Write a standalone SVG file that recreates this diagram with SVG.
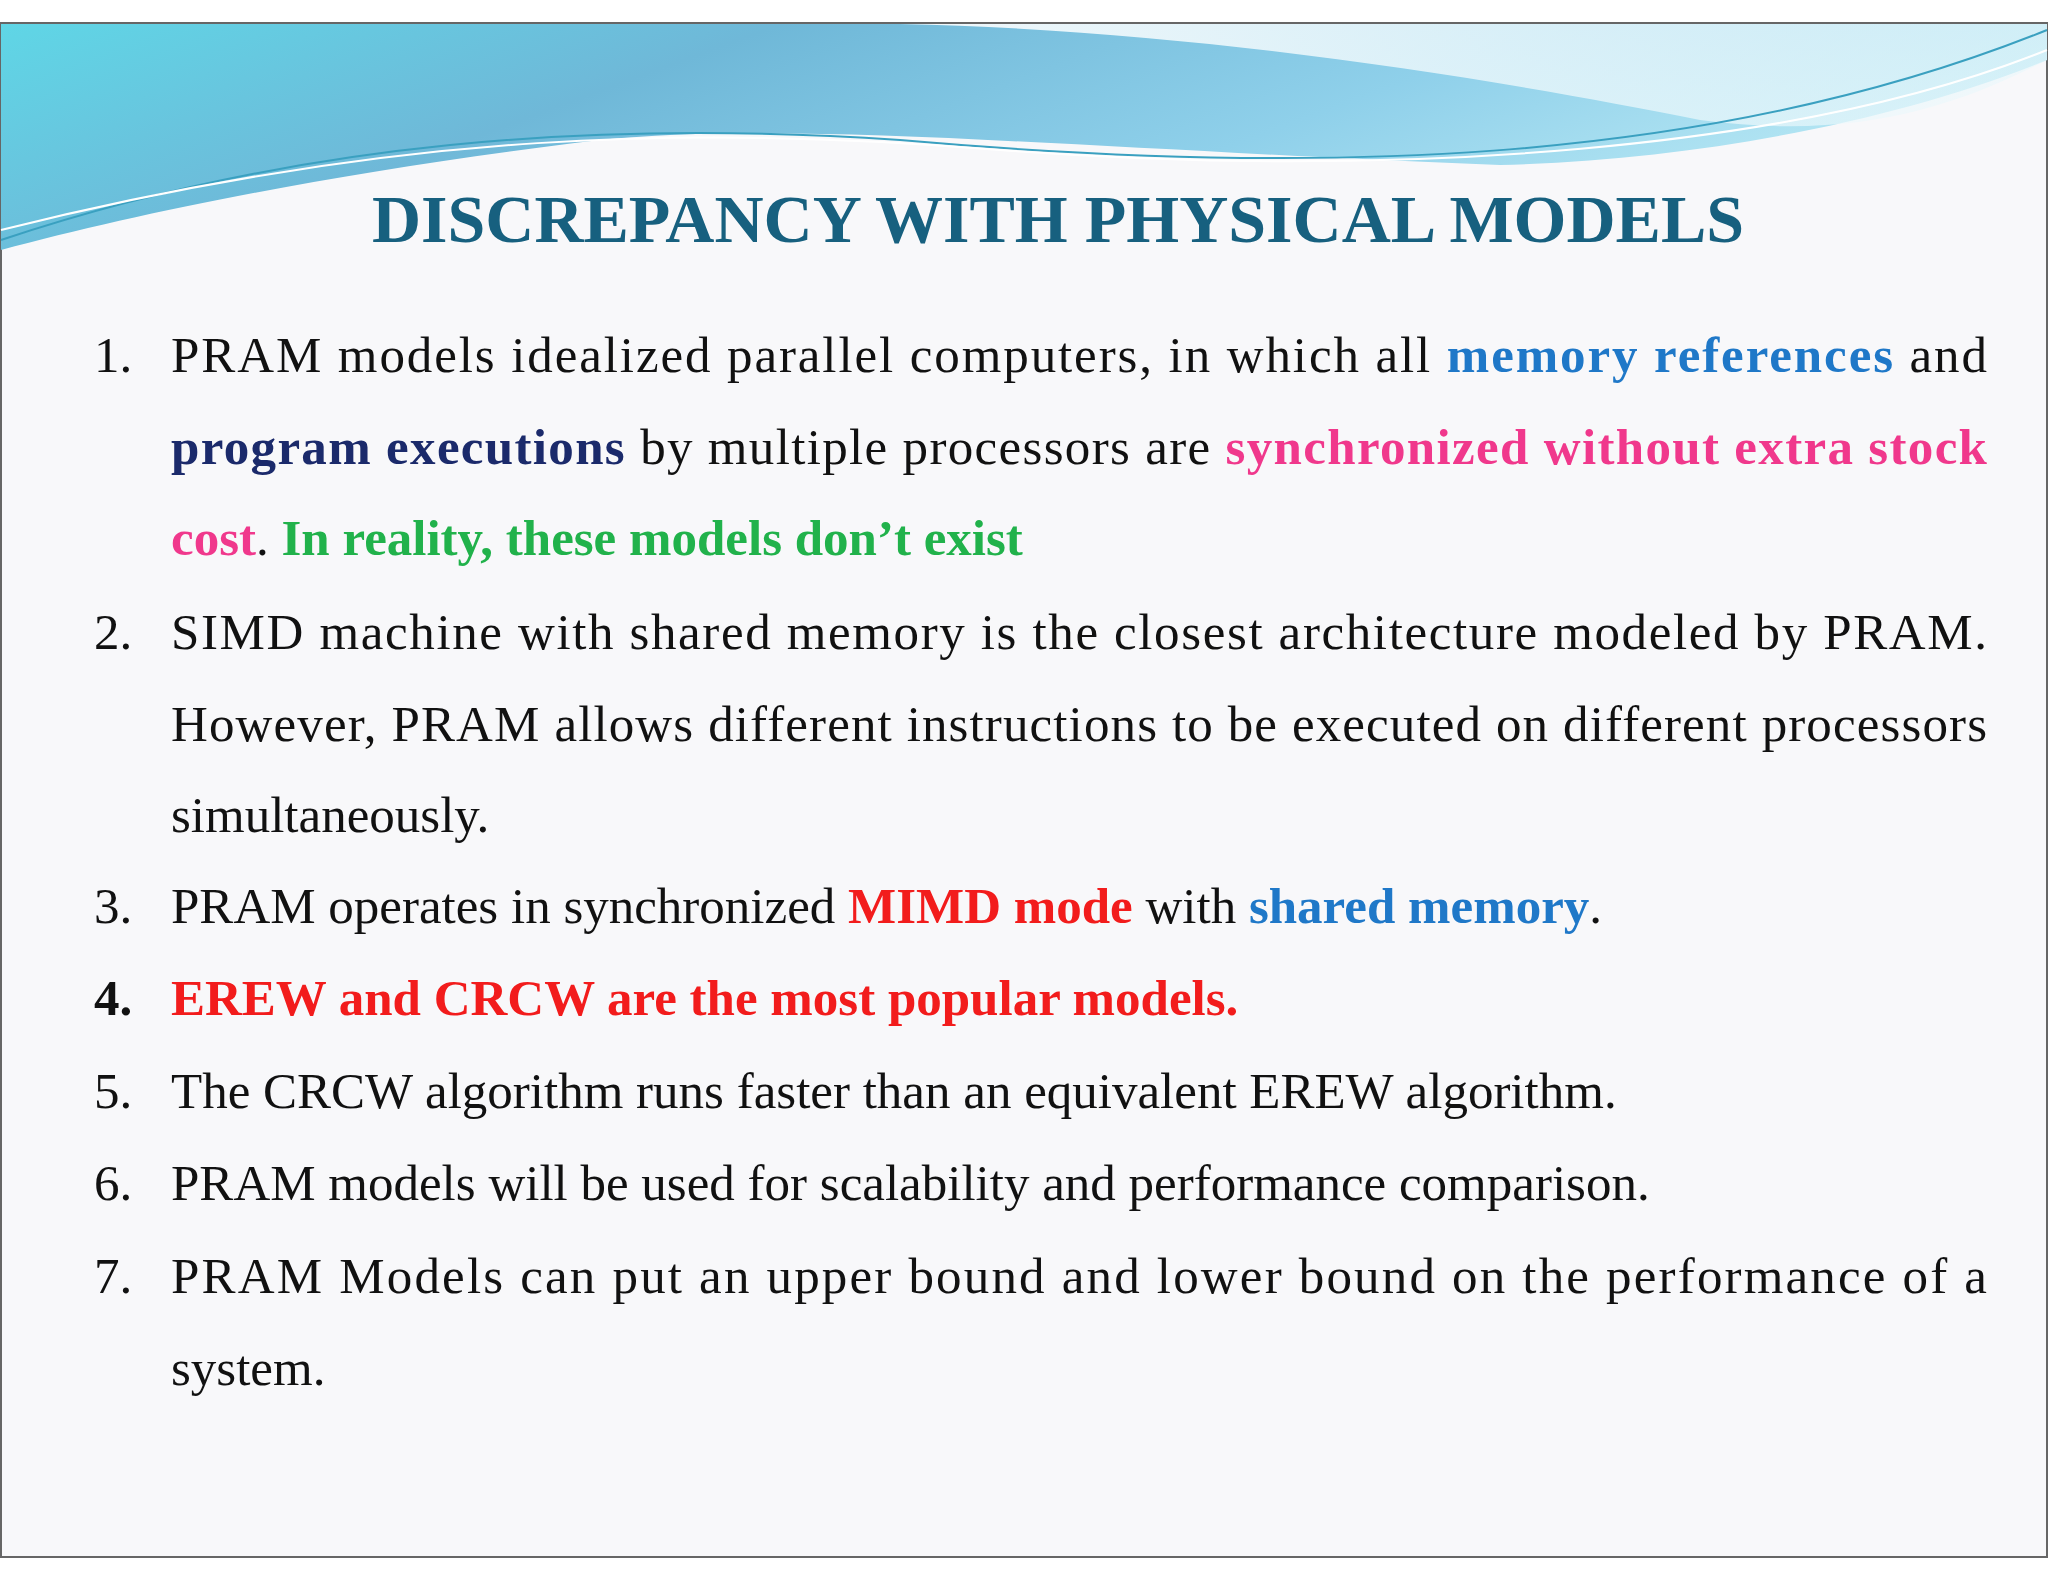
<svg xmlns="http://www.w3.org/2000/svg" width="2048" height="1582" viewBox="0 0 2048 1582">
<defs>
<linearGradient id="hb" x1="0" y1="0" x2="1" y2="0.3">
<stop offset="0" stop-color="#5fd6e6"/><stop offset="0.35" stop-color="#6fb8d8"/><stop offset="0.7" stop-color="#8fd0ea"/><stop offset="1" stop-color="#b8e8f4"/>
</linearGradient>
<linearGradient id="hw" x1="0" y1="0" x2="1" y2="0">
<stop offset="0" stop-color="#ffffff" stop-opacity="0.9"/><stop offset="1" stop-color="#e8f7fb" stop-opacity="0.6"/>
</linearGradient>
<style>
.t{font-family:"Liberation Serif","Times New Roman",serif;font-size:51px;fill:#111}
.b{font-weight:bold}
.blue{fill:#1f78c8}.navy{fill:#1b2a6b}.pink{fill:#f0388c}.green{fill:#21b24b}.red{fill:#f21c1c}
</style>
</defs>
<rect x="0" y="0" width="2048" height="1582" fill="#ffffff"/>
<g id="slide">
<rect x="1" y="23" width="2046" height="1534" fill="#f8f8fa" stroke="#666" stroke-width="2"/>
<path d="M1,24 H2047 V60 C1900,120 1700,160 1500,165 C1100,150 800,120 600,140 C350,170 150,210 1,250 Z" fill="url(#hb)"/>
<path d="M900,24 C1200,30 1500,80 1700,120 C1850,140 1950,110 2047,60 V24 Z" fill="url(#hw)"/>
<path d="M1,240 C300,140 600,120 900,140 C1300,175 1700,170 2047,30" fill="none" stroke="#3aa0c0" stroke-width="2"/>
<path d="M1,230 C400,130 700,125 1000,150 C1400,180 1800,150 2047,50" fill="none" stroke="#ffffff" stroke-width="2"/>
</g>
<g id="title">
<text x="1058" y="242" text-anchor="middle" style="font-family:'Liberation Serif','Times New Roman',serif;font-size:68px;font-weight:bold;fill:#17607f">DISCREPANCY WITH PHYSICAL MODELS</text>
</g>
<g id="numbers">
<text class="t" x="94" y="372">1.</text>
<text class="t" x="94" y="649">2.</text>
<text class="t" x="94" y="923">3.</text>
<text class="t b" x="94" y="1015">4.</text>
<text class="t" x="94" y="1108">5.</text>
<text class="t" x="94" y="1200">6.</text>
<text class="t" x="94" y="1293">7.</text>
</g>
<g id="item1">
<text class="t" x="171" y="372" textLength="1816" lengthAdjust="spacing">PRAM models idealized parallel computers, in which all <tspan class="b blue">memory references</tspan> and</text>
<text class="t" x="171" y="464" textLength="1816" lengthAdjust="spacing"><tspan class="b navy">program executions</tspan> by multiple processors are <tspan class="b pink">synchronized without extra stock</tspan></text>
<text class="t" x="171" y="555"><tspan class="b pink">cost</tspan>. <tspan class="b green">In reality, these models don’t exist</tspan></text>
</g>
<g id="item2">
<text class="t" x="171" y="649" textLength="1816" lengthAdjust="spacing">SIMD machine with shared memory is the closest architecture modeled by PRAM.</text>
<text class="t" x="171" y="741" textLength="1816" lengthAdjust="spacing">However, PRAM allows different instructions to be executed on different processors</text>
<text class="t" x="171" y="832">simultaneously.</text>
</g>
<g id="item3">
<text class="t" x="171" y="923">PRAM operates in synchronized <tspan class="b red">MIMD mode</tspan> with <tspan class="b blue">shared memory</tspan>.</text>
</g>
<g id="item4">
<text class="t b red" x="171" y="1015">EREW and CRCW are the most popular models.</text>
</g>
<g id="item5">
<text class="t" x="171" y="1108">The CRCW algorithm runs faster than an equivalent EREW algorithm.</text>
</g>
<g id="item6">
<text class="t" x="171" y="1200">PRAM models will be used for scalability and performance comparison.</text>
</g>
<g id="item7">
<text class="t" x="171" y="1293" textLength="1816" lengthAdjust="spacing">PRAM Models can put an upper bound and lower bound on the performance of a</text>
<text class="t" x="171" y="1385">system.</text>
</g>
<g id="connectors"/>
</svg>
